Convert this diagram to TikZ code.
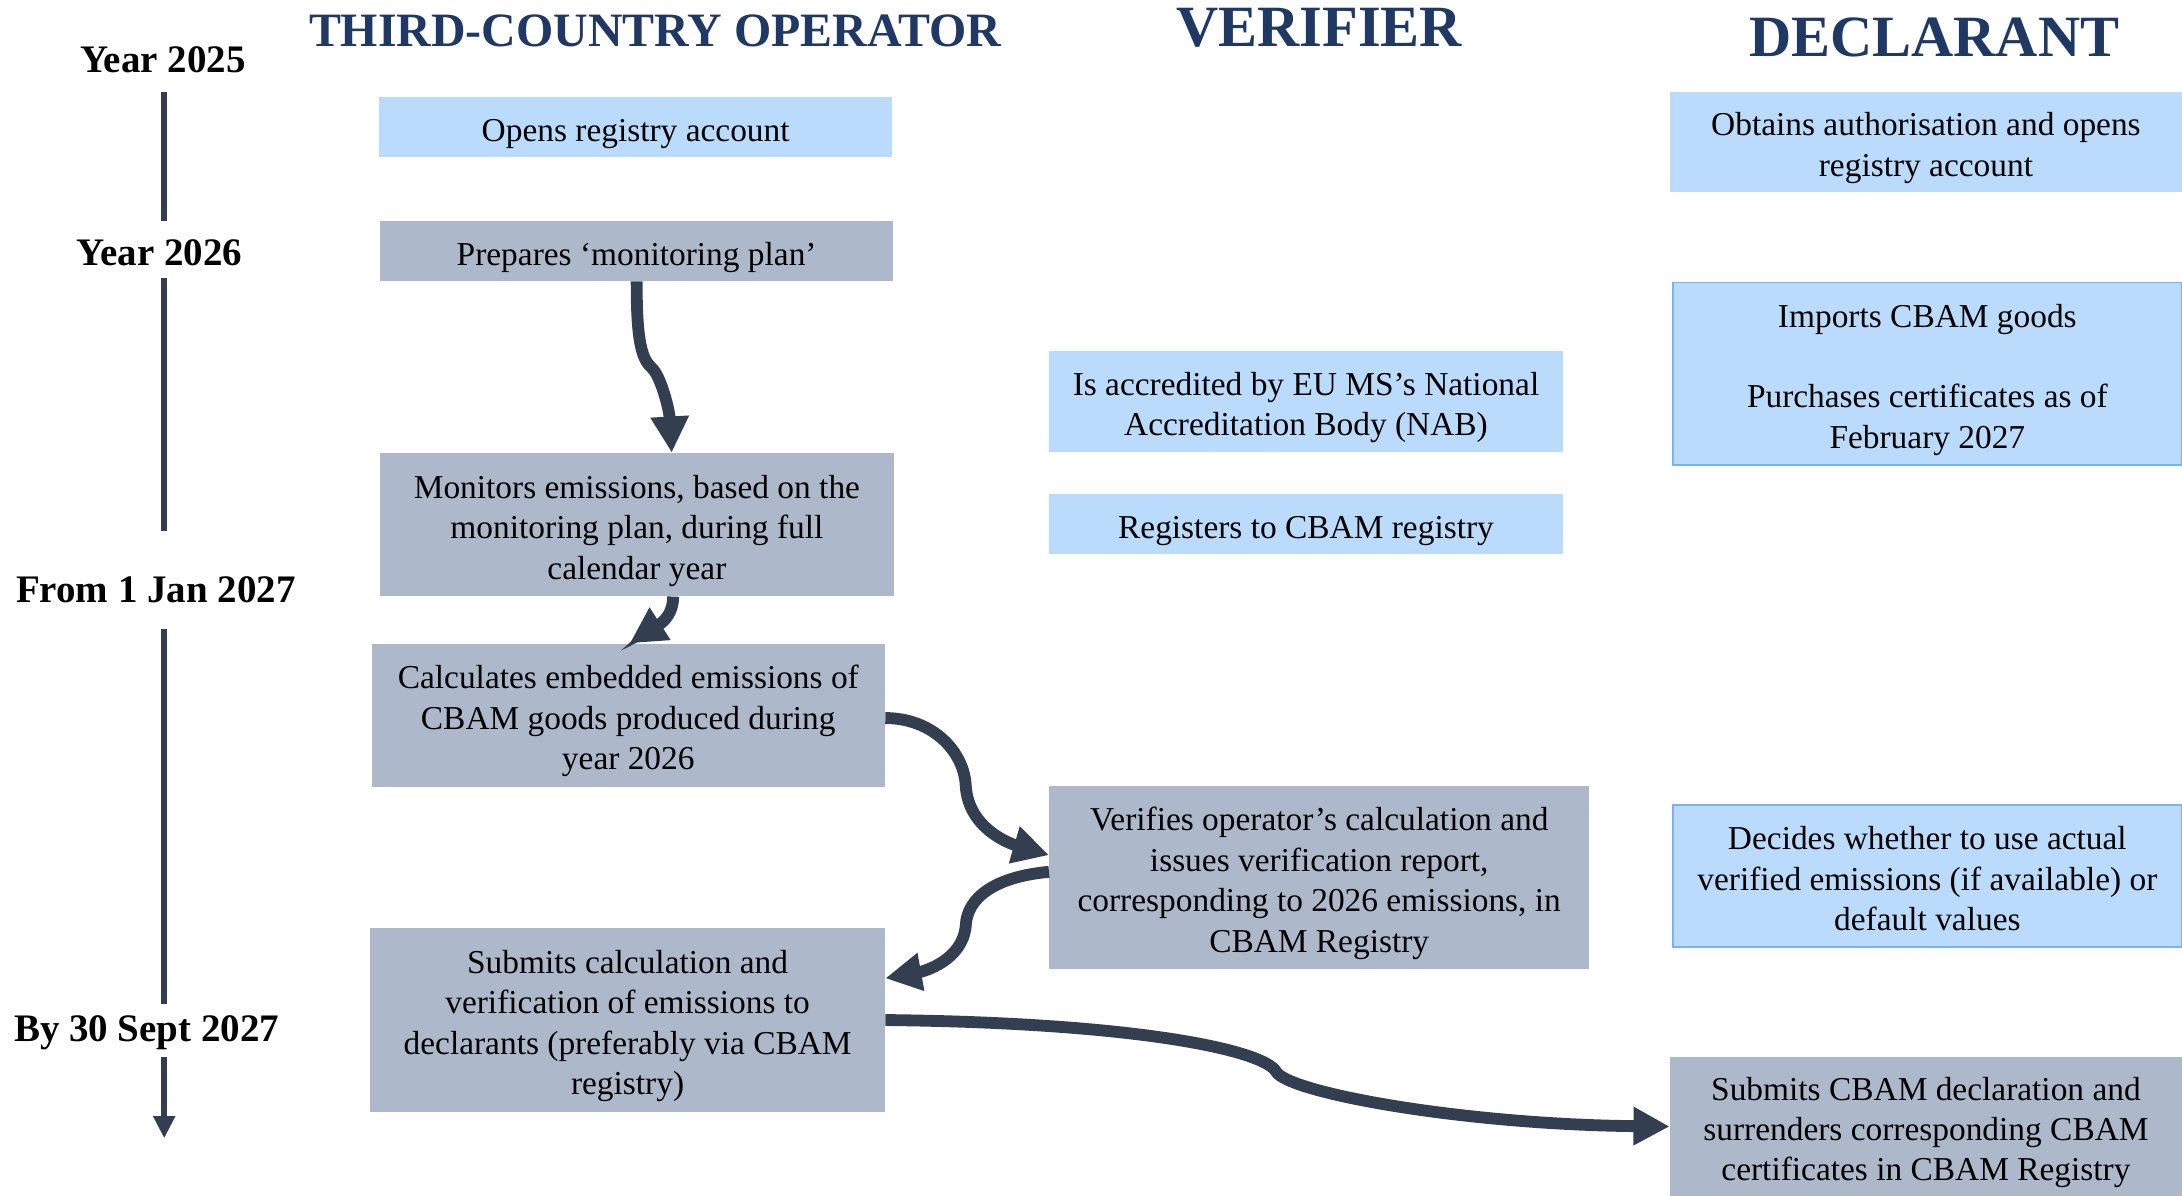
\documentclass[tikz,border=0pt]{standalone}
\usepackage{fontspec}
\setmainfont{Liberation Serif}
\usetikzlibrary{arrows.meta}
\definecolor{boxgray}{HTML}{ADB9CA}
\definecolor{boxblue}{HTML}{BBDBFC}
\definecolor{boxborder}{HTML}{7DB0F0}
\definecolor{arrowc}{HTML}{333F50}
\definecolor{headc}{HTML}{1F3864}
\newcommand{\tstr}{\rule{0pt}{25.4pt}}
\newcommand{\bstr}{\rule[-5pt]{0pt}{5pt}}
\begin{document}
\begin{tikzpicture}[x=1pt,y=-1pt,
  box/.style={inner sep=0pt, align=center, text=black, font=\fontsize{24}{29}\selectfont},
  graybox/.style={box, fill=boxgray},
  bluebox/.style={box, fill=boxblue},
  bluebord/.style={box, fill=boxblue, draw=boxborder, line width=1.2pt},
  yearlbl/.style={anchor=base, inner sep=0pt, text=black, font=\bfseries\fontsize{28}{33}\selectfont},
  headlbl/.style={anchor=base, inner sep=0pt, text=headc},
  flow/.style={draw=arrowc, line width=8.5pt, -{Triangle[length=26pt,width=26pt]}},
  tline/.style={draw=arrowc, line width=4.5pt}
]
\useasboundingbox (0,0) rectangle (1568,859);

% headers
\node[headlbl, font=\bfseries\fontsize{34.4}{40}\selectfont] (hop) at (470.7,33.5) {THIRD-COUNTRY OPERATOR};
\node[headlbl, font=\bfseries\fontsize{42}{48}\selectfont] (hver) at (948,33.5) {VERIFIER};
\node[headlbl, font=\bfseries\fontsize{42}{48}\selectfont] (hdec) at (1390,40.7) {DECLARANT};

% timeline labels
\node[yearlbl] (y25) at (117,52.2) {Year 2025};
\node[yearlbl] (y26) at (114.7,190.5) {Year 2026};
\node[yearlbl] (y27) at (112,433) {From 1 Jan 2027};
\node[yearlbl] (y30) at (105.4,748.6) {By 30 Sept 2027};

% timeline
\coordinate (t1) at (118,66);
\coordinate (t2) at (118,159);
\coordinate (t3) at (118,200);
\coordinate (t4) at (118,381.6);
\coordinate (t5) at (118,452);
\coordinate (t6) at (118,721.5);
\coordinate (t7) at (118,759.6);
\coordinate (t8) at (118,818);
\draw[tline] (t1) -- (t2);
\draw[tline] (t3) -- (t4);
\draw[tline] (t5) -- (t6);
\draw[tline, -{Triangle[length=16pt,width=15pt]}] (t7) -- (t8);

% operator column
\node[bluebox, minimum width=369pt, minimum height=43pt] (opens) at (456.8,91.5) {\tstr Opens registry account\bstr};
\node[graybox, minimum width=369pt, minimum height=43pt] (prepares) at (457.5,180.5) {\tstr Prepares ‘monitoring plan’\bstr};
\node[graybox, minimum width=369pt, minimum height=103pt] (monitors) at (457.7,377) {\tstr Monitors emissions, based on the\\monitoring plan, during full\\calendar year\bstr};
\node[graybox, minimum width=369pt, minimum height=103pt] (calc) at (451.5,514) {\tstr Calculates embedded emissions of\\CBAM goods produced during\\year 2026\bstr};
\node[graybox, minimum width=370pt, minimum height=132pt] (submits) at (451,733) {\tstr Submits calculation and\\verification of emissions to\\declarants (preferably via CBAM\\registry)\bstr};

% verifier column
\node[bluebox, minimum width=369pt, minimum height=73pt] (accr) at (938.5,288.5) {\tstr Is accredited by EU MS’s National\\Accreditation Body (NAB)\bstr};
\node[bluebox, minimum width=369pt, minimum height=43pt] (regs) at (938.5,376.5) {\tstr Registers to CBAM registry\bstr};
\node[graybox, minimum width=388pt, minimum height=131pt] (verif) at (948,630.5) {\tstr Verifies operator’s calculation and\\issues verification report,\\corresponding to 2026 emissions, in\\CBAM Registry\bstr};

% declarant column
\node[bluebox, minimum width=368pt, minimum height=72pt] (obtains) at (1384,102) {\tstr Obtains authorisation and opens\\registry account\bstr};
\node[bluebord, minimum width=366pt, minimum height=131pt] (imports) at (1385,268.5) {\tstr Imports CBAM goods\\[29pt]Purchases certificates as of\\February 2027\bstr};
\node[bluebord, minimum width=366pt, minimum height=102pt] (decides) at (1385,629.5) {\tstr Decides whether to use actual\\verified emissions (if available) or\\default values\bstr};
\node[graybox, minimum width=368pt, minimum height=100pt] (subdecl) at (1384,809.5) {\tstr Submits CBAM declaration and\\surrenders corresponding CBAM\\certificates in CBAM Registry\bstr};

% flows
\draw[flow] (prepares.south) .. controls (457.5,240) and (460,257) .. (468,264)
  .. controls (475,270) and (481,295) .. ([xshift=25pt]monitors.north);
\draw[flow] ([xshift=26pt]monitors.south) .. controls (484,445) and (470,451) .. ([xshift=1pt]calc.north);
\draw[flow] ([yshift=-2pt]calc.east) .. controls (670,516) and (693,540) .. (694,565)
  .. controls (696,595) and (725,606) .. ([yshift=16pt]verif.west);
\draw[flow] ([yshift=4pt]verif.west) .. controls (715,630) and (695,645) .. (694,665)
  .. controls (692,690) and (664,698) .. ([yshift=30pt]submits.east);
\draw[flow] (submits.east) .. controls (820,735) and (908,755) .. (917,770)
  .. controls (925,785) and (1050,808) .. (subdecl.west);
\end{tikzpicture}
\end{document}
